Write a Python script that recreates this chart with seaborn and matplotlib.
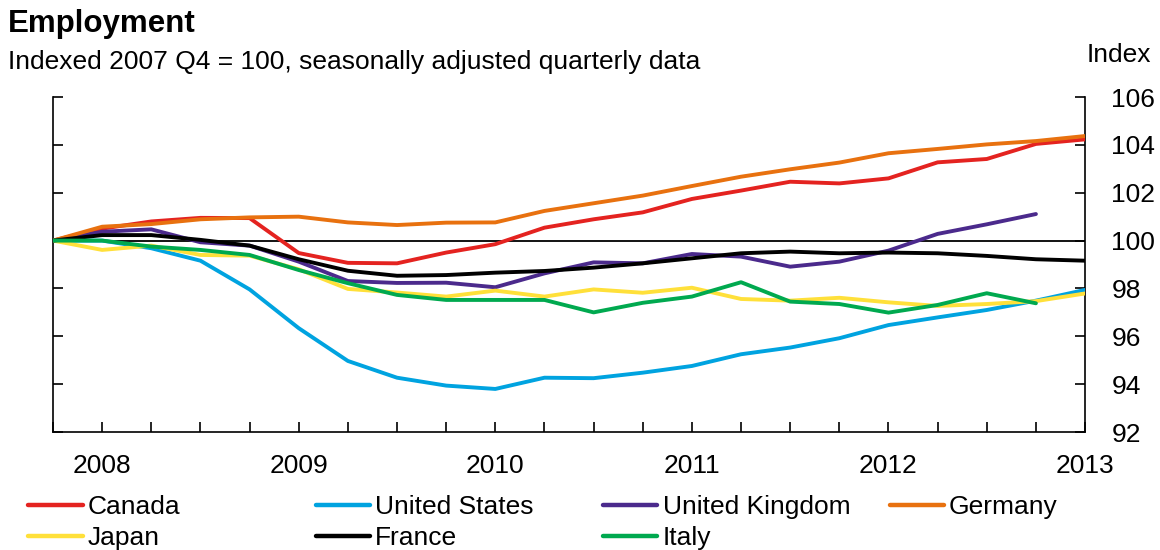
import numpy as np
import pandas as pd
import matplotlib
matplotlib.use("Agg")
import matplotlib.pyplot as plt
import seaborn as sns

# quarterly data, 2007 Q4 .. 2013 Q1 (index 2007 Q4 = 100)
quarters = list(range(22))
year_ticks = [1, 5, 9, 13, 17, 21]
year_labels = ["2008", "2009", "2010", "2011", "2012", "2013"]

canada = [100, 100.5, 100.8, 100.95, 100.94, 99.48, 99.07, 99.05, 99.5, 99.85, 100.54,
          100.89, 101.18, 101.74, 102.09, 102.46, 102.39, 102.6, 103.27, 103.41, 104.04, 104.23]
united_states = [100, 100.0, 99.68, 99.16, 97.96, 96.34, 94.97, 94.27, 93.94, 93.8, 94.27,
                 94.25, 94.48, 94.76, 95.25, 95.53, 95.92, 96.47, 96.79, 97.1, 97.49, 97.94]
united_kingdom = [100, 100.37, 100.47, 99.93, 99.79, 99.12, 98.31, 98.23, 98.24, 98.05, 98.63,
                  99.09, 99.05, 99.44, 99.33, 98.91, 99.12, 99.58, 100.28, 100.68, 101.11, np.nan]
germany = [100, 100.58, 100.69, 100.89, 100.97, 101.0, 100.76, 100.65, 100.75, 100.76, 101.24,
           101.56, 101.88, 102.28, 102.67, 102.98, 103.26, 103.65, 103.83, 104.02, 104.16, 104.37]
japan = [100, 99.61, 99.79, 99.4, 99.37, 98.8, 97.98, 97.83, 97.66, 97.91, 97.66,
         97.96, 97.82, 98.03, 97.56, 97.49, 97.61, 97.42, 97.27, 97.35, 97.47, 97.79]
france = [100, 100.23, 100.23, 100.03, 99.79, 99.22, 98.74, 98.53, 98.56, 98.66, 98.73,
          98.87, 99.05, 99.26, 99.47, 99.54, 99.47, 99.5, 99.47, 99.36, 99.22, 99.16]
italy = [100, 100.0, 99.75, 99.61, 99.4, 98.77, 98.22, 97.73, 97.52, 97.52, 97.52,
         97.0, 97.4, 97.66, 98.26, 97.45, 97.35, 96.99, 97.31, 97.8, 97.38, np.nan]

countries = ["Canada", "United States", "United Kingdom", "Germany", "Japan", "France", "Italy"]
series = [canada, united_states, united_kingdom, germany, japan, france, italy]
colors = ["#E42320", "#00A3E0", "#4B2A8C", "#E8710F", "#FFE03A", "#000000", "#00A94F"]

df = pd.concat([pd.DataFrame({"quarter": quarters, "value": vals, "country": name})
                for name, vals in zip(countries, series)], ignore_index=True)

sns.set_style("white")
plt.rcParams["font.family"] = ["Liberation Sans", "DejaVu Sans"]
plt.rcParams.update({"text.color": "black", "xtick.color": "black", "ytick.color": "black",
                     "axes.labelcolor": "black"})

fig = plt.figure(figsize=(11.6, 5.5), dpi=100)
ax = fig.add_axes([0.0457, 0.2145, 0.8897, 0.6091])

ax.axhline(100, color="black", lw=1.3, zorder=1)
sns.lineplot(data=df, x="quarter", y="value", hue="country", hue_order=countries,
             palette=dict(zip(countries, colors)), linewidth=2.8, ax=ax, zorder=3)

handles, labels = ax.get_legend_handles_labels()
ax.get_legend().remove()

ax.set_xlim(0, 21)
ax.set_ylim(92, 106)
ax.set_yticks(range(92, 107, 2))
ax.set_xticks(quarters)
ax.set_xticklabels([year_labels[year_ticks.index(q)] if q in year_ticks else "" for q in quarters])
ax.set_xlabel("")
ax.set_ylabel("")

ax.spines["top"].set_visible(False)
for s in ["left", "right", "bottom"]:
    ax.spines[s].set_visible(True)
    ax.spines[s].set_color("black")
    ax.spines[s].set_linewidth(1.2)

ax.tick_params(axis="y", left=True, right=True, labelleft=False, labelright=True,
               direction="in", length=7, width=1.2, pad=19, labelsize=19, colors="black")
ax.tick_params(axis="x", bottom=True, direction="in", length=7, width=1.2, pad=16,
               labelsize=19, colors="black")

fig.text(0.007, 0.957, "Employment", fontsize=22.5, fontweight="bold", va="center")
fig.text(0.007, 0.888, "Indexed 2007 Q4 = 100, seasonally adjusted quarterly data",
         fontsize=19, va="center")
fig.text(0.992, 0.9, "Index", fontsize=19, va="center", ha="right")

# legend: 4 evenly spaced columns, two rows
col_x = [0.0245, 0.272, 0.52, 0.767]
for c in range(4):
    idx = [i for i in (c, c + 4) if i < len(handles)]
    leg = fig.legend([handles[i] for i in idx], [labels[i] for i in idx],
                     loc="upper left", bbox_to_anchor=(col_x[c], 0.1),
                     frameon=False, fontsize=19, handlelength=2.05, handletextpad=0.2,
                     labelspacing=0.27, borderaxespad=0, borderpad=0)
    for line in leg.get_lines():
        line.set_linewidth(3.2)

fig.savefig("out.png", dpi=100)
